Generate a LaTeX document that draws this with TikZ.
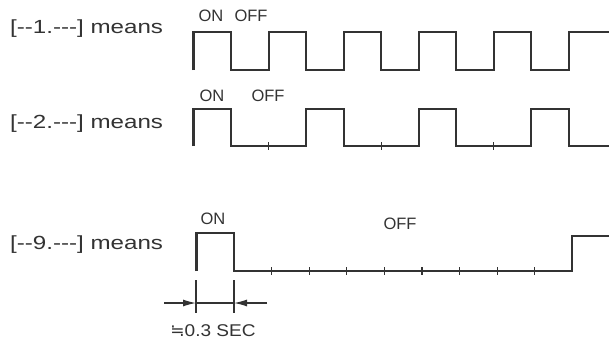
\documentclass[tikz,border=0pt]{standalone}
\usepackage{fontspec}
\setmainfont{Liberation Sans}
\newfontfamily\lblfont[FakeStretch=1.27,Ligatures=TeXOff]{Liberation Sans}
\newfontfamily\dimfont[FakeStretch=1.12,Ligatures=TeXOff]{Liberation Sans}
\newfontfamily\symfont{DejaVu Sans}
\usetikzlibrary{arrows.meta}
\definecolor{ink}{HTML}{333333}
\begin{document}
\begin{tikzpicture}[x=1pt,y=-1pt,
  wave/.style={draw=ink, line width=2.1pt, line join=miter},
  tickmark/.style={draw=ink, line width=1.1pt},
  dimline/.style={draw=ink, line width=1.2pt},
  lbl/.style={font=\lblfont\fontsize{19}{21}\selectfont, text=ink, anchor=base west, inner sep=0pt},
  state/.style={font=\fontsize{16.5}{18}\selectfont, text=ink, inner sep=0pt},
  dimtext/.style={font=\dimfont\fontsize{17}{19}\selectfont, text=ink, inner sep=0pt}]
\useasboundingbox[fill=white] (0,0) rectangle (609,340);

% labels
\node[lbl] (l1) at (10,33) {[--1.---] means};
\node[lbl] (l2) at (10,128) {[--2.---] means};
\node[lbl] (l3) at (10,249) {[--9.---] means};

% state labels
\node[state] (on1) at (211,16) {ON};
\node[state] (off1) at (251,16) {OFF};
\node[state] (on2) at (212,96) {ON};
\node[state] (off2) at (268,96) {OFF};
\node[state] (on3) at (213,219) {ON};
\node[state] (off3) at (400,224) {OFF};

% row 1
\draw[wave] (193.5,70) -- (193.5,32) -- (231,32) -- (231,70) -- (268.6,70) -- (268.6,32)
  -- (306.2,32) -- (306.2,70) -- (343.7,70) -- (343.7,32) -- (381.3,32) -- (381.3,70)
  -- (418.8,70) -- (418.8,32) -- (456.4,32) -- (456.4,70) -- (493.9,70) -- (493.9,32)
  -- (531.4,32) -- (531.4,70) -- (569,70) -- (569,32) -- (609,32);

% row 2
\draw[wave] (193.5,146) -- (193.5,109) -- (231,109) -- (231,146) -- (306.2,146) -- (306.2,109)
  -- (343.7,109) -- (343.7,146) -- (418.8,146) -- (418.8,109) -- (456.4,109) -- (456.4,146)
  -- (531.4,146) -- (531.4,109) -- (569,109) -- (569,146) -- (609,146);
\foreach \x in {268.6,381.3,493.9} \draw[tickmark] (\x,142) -- (\x,150);

% row 3
\draw[wave] (196.5,271) -- (196.5,233) -- (234,233) -- (234,271) -- (572.4,271) -- (572.4,236) -- (609,236);
\foreach \x in {271.6,309.2,346.8,384.4,422,459.6,497.2,534.8} \draw[tickmark] (\x,267) -- (\x,275);

% dimension
\coordinate (e1a) at (196,280); \coordinate (e1b) at (196,313);
\coordinate (e2a) at (234,280); \coordinate (e2b) at (234,313);
\coordinate (a1) at (164,303); \coordinate (t1) at (196,303);
\coordinate (a2) at (267,303); \coordinate (t2) at (234,303);
\draw[dimline] (e1a) -- (e1b);
\draw[dimline] (e2a) -- (e2b);
\draw[dimline] (t1) -- (t2);
\draw[dimline, -{Latex[length=13pt,width=7pt]}] (a1) -- (t1);
\draw[dimline, -{Latex[length=13pt,width=7pt]}] (a2) -- (t2);
\node[dimtext] (sec) at (213,331) {{\symfont ≒}0.3 SEC};
\end{tikzpicture}
\end{document}
